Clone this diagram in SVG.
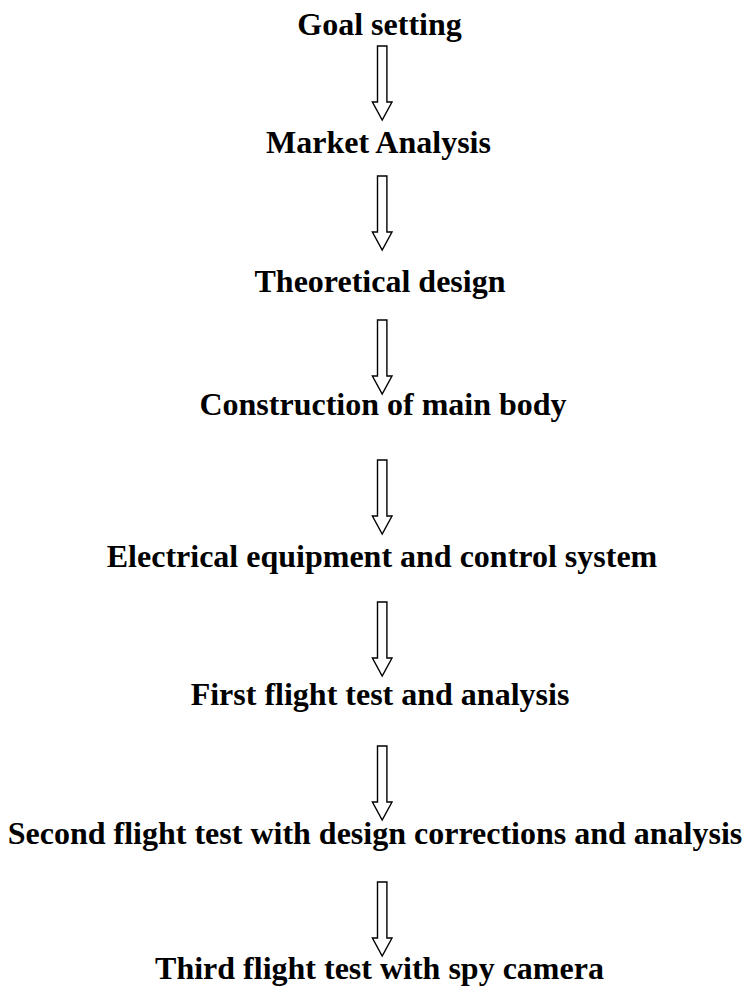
<svg xmlns="http://www.w3.org/2000/svg" width="749" height="987" viewBox="0 0 749 987">
  <style>
    .step { font-family: "Liberation Serif", "Times New Roman", serif; font-weight: bold; font-size: 32px; fill: #000; text-anchor: middle; }
    .arrow { fill: #fff; stroke: #000; stroke-width: 1.4; stroke-linejoin: miter; }
  </style>
  <defs>
    <!-- hollow block arrow pointing down, origin at shaft top centre -->
    <path id="down" class="arrow" d="M-4.7,0 H4.7 V56 H9.8 L0,74 L-9.8,56 H-4.7 Z"/>
  </defs>
  <rect width="749" height="987" fill="#fff"/>

  <g id="connectors">
    <use href="#down" x="382.2" y="46"/>
    <use href="#down" x="382.2" y="176"/>
    <use href="#down" x="382.2" y="320"/>
    <use href="#down" x="382.2" y="460"/>
    <use href="#down" x="382.2" y="602"/>
    <use href="#down" x="382.2" y="746"/>
    <use href="#down" x="382.2" y="882"/>
  </g>

  <g id="goal-setting"><text class="step" x="379.5" y="35">Goal setting</text></g>
  <g id="market-analysis"><text class="step" x="378.5" y="153">Market Analysis</text></g>
  <g id="theoretical-design"><text class="step" x="380" y="292">Theoretical design</text></g>
  <g id="construction"><text class="step" x="383" y="415">Construction of main body</text></g>
  <g id="electrical"><text class="step" x="382" y="567">Electrical equipment and control system</text></g>
  <g id="first-flight"><text class="step" x="380" y="705">First flight test and analysis</text></g>
  <g id="second-flight"><text class="step" x="375" y="844">Second flight test with design corrections and analysis</text></g>
  <g id="third-flight"><text class="step" x="379.5" y="979">Third flight test with spy camera</text></g>
</svg>
